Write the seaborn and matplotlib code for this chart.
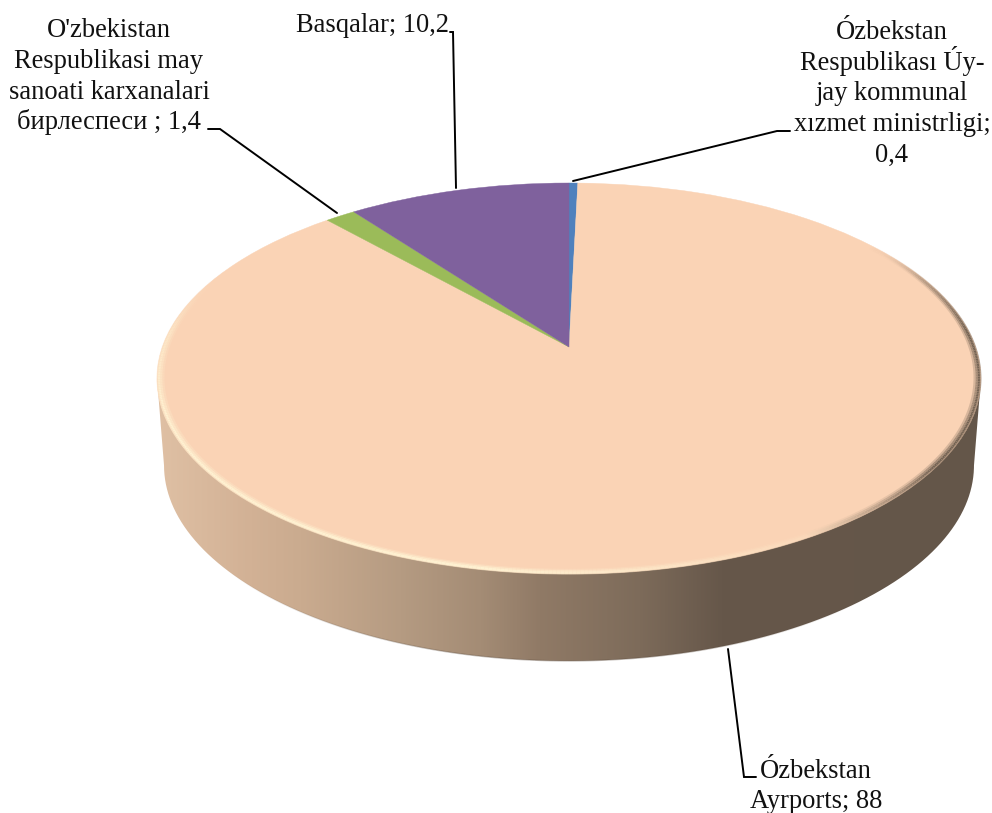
import numpy as np
import matplotlib
matplotlib.use("Agg")
import matplotlib.pyplot as plt
import matplotlib.transforms as mtransforms
from matplotlib.collections import LineCollection
from matplotlib.colors import LinearSegmentedColormap, to_rgb
from matplotlib.patches import PathPatch
from matplotlib.path import Path
import seaborn as sns

# ---- data (clockwise from 12 o'clock) ----
shares = [0.4, 88, 1.4, 10.2]
slice_colors = ["#4F81BD", "#FAD3B5", "#9BBB59", "#7F619D"]

label_lines = [
    ["Ózbekstan", "Respublikası Úy-", "jay kommunal", "xızmet ministrligi;", "0,4"],
    ["Ózbekstan", "Ayrports; 88"],
    ["O'zbekistan", "Respublikasi may", "sanoati karxanalari", "бирлеспеси ; 1,4"],
    ["Basqalar; 10,2"],
]
label_anchor_x = [892, 816, 109, 373]
label_baselines = [[39, 70, 100, 131, 162], [778, 808], [37, 68, 99, 129], [32]]
leader_x = [(790, 777, 573), (756, 744, 728), (208, 220, 337), (450, 453, 456)]
leader_y = [(131, 131, 181), (777, 777, 649), (129, 129, 213), (32, 32, 188)]

# ---- style of the tilted disc (pixel geometry) ----
APEX_X, APEX_Y = 569, 347
TILT_K, V_SCALE, U_SCALE = 0.161, 190.4, 406.6
DEPTH, BOTTOM_SCALE = 87, 0.983
FONT_SIZE = 19.1

sns.set_style("white")
plt.rcParams["font.family"] = ["Liberation Serif", "DejaVu Serif"]


class TiltedDisc(mtransforms.Transform):
    """Perspective from the pie's unit disc to figure pixels."""
    input_dims = output_dims = 2
    is_separable = False

    def transform_non_affine(self, values):
        values = np.asarray(values, dtype=float)
        u, v = values[:, 0], values[:, 1]
        w = 1 + TILT_K * v
        return np.column_stack((APEX_X + U_SCALE * u / w, APEX_Y - V_SCALE * v / w))


disc = TiltedDisc()


def rim(t):
    return disc.transform_non_affine(np.column_stack((np.cos(t), np.sin(t))))


def base_rim(t):
    p = rim(t)
    p[:, 0] = APEX_X + (p[:, 0] - APEX_X) * BOTTOM_SCALE
    p[:, 1] += DEPTH
    return p


fig = plt.figure(figsize=(9.92, 8.13), dpi=100, facecolor="white")
ax = fig.add_axes([0, 0, 1, 1])

# pie, top face
wedges, _ = ax.pie(shares, colors=slice_colors, startangle=90, counterclock=False,
                   wedgeprops=dict(linewidth=0.3), radius=1)
for w, c in zip(wedges, slice_colors):
    w.set_edgecolor(c)
    w.set_transform(disc + ax.transData)
    w.set_zorder(4)
    w.set_clip_on(False)

# side wall with horizontal gradient
t_side = np.arcsin(-TILT_K)
t_left, t_right = np.pi - t_side, 2 * np.pi + t_side
ts = np.linspace(t_left, t_right, 240)
outline = np.vstack((rim(np.array([t_left])), base_rim(ts), rim(np.array([t_right]))))
wall = PathPatch(Path(outline, closed=False), transform=ax.transData,
                 facecolor="none", edgecolor="none")
ax.add_patch(wall)

x0, x1 = 157, 990
stops = [(157, "#DFC0A4"), (250, "#D2B195"), (300, "#CAAB8F"), (400, "#B59B82"),
         (480, "#A48C75"), (540, "#907A66"), (640, "#7D6B5A"), (722, "#66574A"),
         (990, "#645649")]
cmap = LinearSegmentedColormap.from_list(
    "wall", [((x - x0) / (x1 - x0), c) for x, c in stops], N=512)
img = ax.imshow(np.linspace(0, 1, 840)[None, :], cmap=cmap, aspect="auto",
                extent=(x0, x1, 700, 370), zorder=2, interpolation="bilinear")
img.set_clip_path(wall)

# darker soft line along the front of the wall's lower rim, fading at both ends
low_deg = np.linspace(-140, -50, 160)
low = base_rim(np.radians(low_deg))
low_alpha = np.interp(low_deg[:-1], [-140, -105, -75, -50], [0, .35, .35, 0])
low_rgb = np.tile(to_rgb("#5a4a3c"), (len(low_alpha), 1))
ax.add_collection(LineCollection(np.stack((low[:-1], low[1:]), axis=1),
                                 colors=np.column_stack((low_rgb, low_alpha)),
                                 linewidths=1.0, zorder=3), autolim=False)

# bevel between top face and wall
cream = np.array(to_rgb("#FFF3D3"))
shade = np.array(to_rgb("#6F5F50"))
face = np.array(to_rgb(slice_colors[1]))


def bevel_colors(deg):
    """deg: angle in degrees on the rim, -270..90."""
    out = []
    for d in deg:
        hi = np.interp(d, [-205, -185, -160, -100, -65, -45], [0, .6, 1, 1, .3, 0])
        lo = np.interp(d, [-60, -35, 5, 22, 35], [0, 1, 1, .45, 0])
        out.append(face + hi * (cream - face) + lo * (shade - face))
    return np.array(out)


def bevel_alpha(deg, mix):
    # the ring fades out where the bevel is neutral
    strength = np.interp(deg, [-205, -185, -50, 22, 35], [0, 1, 1, 1, 0])
    return mix * strength


angles = np.linspace(-205, 35, 500)
segs_t = np.radians(angles)
for r, mix, lw in [(.999, .5, 1.3), (.995, .95, 1.6), (.990, .6, 1.6), (.985, .25, 1.6)]:
    pts = np.column_stack((r * np.cos(segs_t), r * np.sin(segs_t)))
    segments = np.stack((pts[:-1], pts[1:]), axis=1)
    lc = LineCollection(segments, colors=np.column_stack(
        (bevel_colors(angles[:-1]), bevel_alpha(angles[:-1], mix))),
        linewidths=lw, transform=disc + ax.transData, zorder=5, capstyle="butt")
    ax.add_collection(lc, autolim=False)

# leader lines
for xs, ys in zip(leader_x, leader_y):
    ax.plot(xs, ys, color="black", lw=1.4, zorder=6, solid_joinstyle="miter")

# labels
for lines, x, bases in zip(label_lines, label_anchor_x, label_baselines):
    for line, y in zip(lines, bases):
        ax.text(x, y, line, ha="center", va="baseline",
                fontsize=FONT_SIZE, color="#111111", zorder=7)

ax.set_aspect("auto")
ax.set_xlim(0, 992)
ax.set_ylim(813, 0)
ax.set_xticks([])
ax.set_yticks([])
ax.set_frame_on(False)

fig.savefig("out.png", dpi=100, facecolor="white")
